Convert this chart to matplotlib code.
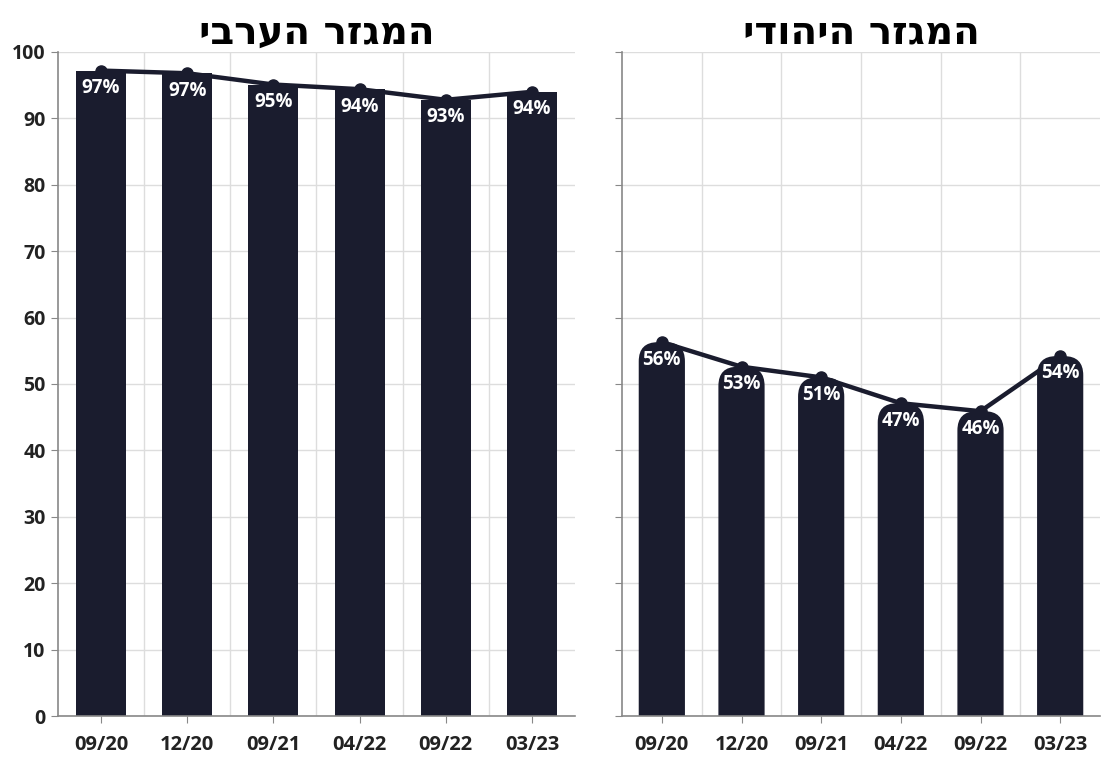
import numpy as np
import matplotlib
matplotlib.use("Agg")
import matplotlib.pyplot as plt
from matplotlib.patches import FancyBboxPatch

periods = ['09/20', '12/20', '09/21', '04/22', '09/22', '03/23']
arab_vals = [97.2, 96.8, 95.1, 94.4, 92.8, 94.0]
jewish_vals = [56.3, 52.6, 51.0, 47.1, 45.9, 54.2]
arab_title = 'המגזר הערבי'
jewish_title = 'המגזר היהודי'

navy = '#1a1c2e'
plt.rcParams['font.family'] = ['Open Sans', 'DejaVu Sans']

fig = plt.figure(figsize=(11.03, 7.62), dpi=100)
ax1 = fig.add_axes([58 / 1103, 1 - 716 / 762, (575 - 58) / 1103, (716 - 52) / 762])
ax2 = fig.add_axes([622 / 1103, 1 - 716 / 762, (1100 - 622) / 1103, (716 - 52) / 762])


def draw_panel(ax, vals, title, rounded, show_y):
    x = np.arange(len(vals))
    ax.set_xlim(-0.5, 5.5)
    ax.set_ylim(0, 100)
    # aspect between data units in x and y, for round tops
    bb = ax.get_position()
    px_x = bb.width * 1103 / 6.0
    px_y = bb.height * 762 / 100.0
    w = 0.58
    for xi, v in zip(x, vals):
        if rounded:
            p = FancyBboxPatch((xi - w / 2, -5), w, v + 5,
                               boxstyle='round,pad=0,rounding_size=0.24',
                               mutation_aspect=px_x / px_y,
                               fc=navy, ec='none', zorder=2)
            ax.add_patch(p)
        else:
            ax.bar(xi, v, width=w, color=navy, zorder=2)
    ax.plot(x, vals, color=navy, lw=3.2, marker='o', ms=8, zorder=3)
    for xi, v in zip(x, vals):
        ax.annotate(f'{round(v)}%', (xi, v), xytext=(0, -12.5), textcoords='offset points',
                    ha='center', va='center', color='white', fontsize=13.5, fontweight='bold',
                    zorder=4)

    ax.set_xticks(x)
    ax.set_xticklabels(periods, fontsize=14.5, fontweight='bold', color='#222222')
    ax.set_xticks(np.arange(0.5, 5.5, 1), minor=True)
    ax.set_yticks(np.arange(0, 101, 10))
    if show_y:
        ax.set_yticklabels([str(t) for t in range(0, 101, 10)], fontsize=14,
                           fontweight='bold', color='#222222')
    else:
        ax.set_yticklabels([])
    ax.tick_params(axis='x', which='major', length=5, color='#888888', pad=9)
    ax.tick_params(axis='x', which='minor', length=0)
    ax.tick_params(axis='y', length=5, color='#888888', pad=4)
    ax.grid(True, axis='y', color='#dddddd', lw=1, zorder=0)
    ax.grid(True, axis='x', which='minor', color='#dddddd', lw=1, zorder=0)
    ax.set_axisbelow(True)
    for s in ['top', 'right']:
        ax.spines[s].set_visible(False)
    for s in ['left', 'bottom']:
        ax.spines[s].set_color('#888888')
        ax.spines[s].set_linewidth(1.2)
    # Hebrew is drawn left-to-right, so reverse for visual order
    ax.set_title(title[::-1], fontsize=28, fontweight='heavy', family=['DejaVu Sans'],
                 pad=6, color='black')


draw_panel(ax1, arab_vals, arab_title, False, True)
draw_panel(ax2, jewish_vals, jewish_title, True, False)

fig.savefig('out.png', dpi=100, facecolor='white')
